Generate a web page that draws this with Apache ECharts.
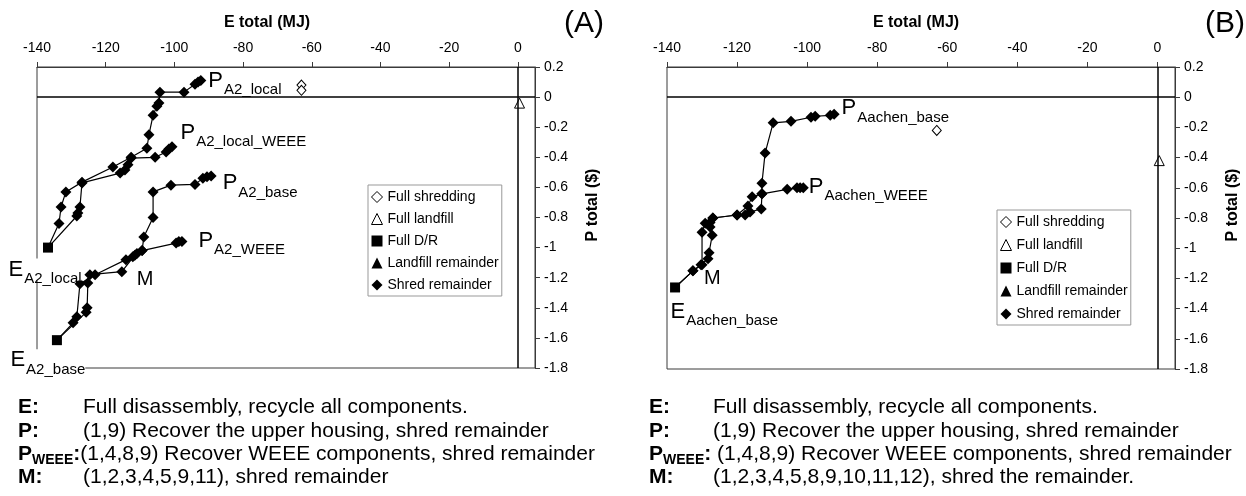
<!DOCTYPE html>
<html><head><meta charset="utf-8">
<script src="https://cdn.jsdelivr.net/npm/echarts@6/dist/echarts.min.js"></script>
<style>html,body{margin:0;padding:0;background:#fff}#c{width:1246px;height:496px}</style>
</head><body><div id="c"></div>
<script>
// ---------- tick labels / categories ----------
const xTicks = [-140, -120, -100, -80, -60, -40, -20, 0];
const yTicks = [0.2, 0, -0.2, -0.4, -0.6, -0.8, -1, -1.2, -1.4, -1.6, -1.8];
const legendNames = ['Full shredding', 'Full landfill', 'Full D/R', 'Landfill remainder', 'Shred remainder'];

// ---------- Panel A data: [E total (MJ), P total ($)] ----------
const A_P_local = [[-92.3,0.11],[-93.1,0.10],[-94.0,0.086],[-97.2,0.033],[-104.2,0.033],[-104.5,-0.04],[-105.1,-0.06],[-106.2,-0.12],[-107.4,-0.25],[-108.0,-0.34],[-112.6,-0.40],[-117.9,-0.465],[-126.9,-0.565],[-131.6,-0.63],[-133.0,-0.73],[-133.6,-0.84],[-136.8,-1.0]];
const A_P_local_WEEE = [[-100.7,-0.33],[-101.6,-0.345],[-102.4,-0.365],[-105.6,-0.40],[-112.6,-0.405],[-113.5,-0.45],[-114.4,-0.485],[-115.8,-0.505],[-126.9,-0.57],[-127.5,-0.73],[-128.1,-0.77],[-128.4,-0.79],[-136.8,-1.0]];
const A_P_base = [[-89.3,-0.525],[-90.5,-0.53],[-91.7,-0.54],[-94.0,-0.58],[-101.0,-0.585],[-106.2,-0.63],[-106.2,-0.80],[-108.9,-0.93],[-109.4,-1.02],[-110.9,-1.04],[-112.1,-1.06],[-114.1,-1.08],[-123.1,-1.18],[-127.5,-1.24],[-128.4,-1.46],[-129.5,-1.50],[-134.2,-1.615]];
const A_P_WEEE = [[-97.8,-0.96],[-98.7,-0.96],[-99.5,-0.97],[-109.4,-1.02],[-111.5,-1.05],[-115.3,-1.16],[-124.6,-1.18],[-125.2,-1.235],[-125.4,-1.40],[-125.7,-1.43],[-134.2,-1.615]];
const A_fullDR = [[-136.8,-1.0],[-134.2,-1.615]];
const A_fullShred = [[-63,0.08],[-63,0.045]];
const A_fullLandfill = [[0.5,-0.04]];
const A_landfillRem = [];

// ---------- Panel B data ----------
const B_P_base = [[-92.3,-0.113],[-93.4,-0.12],[-97.7,-0.126],[-98.9,-0.133],[-104.6,-0.16],[-109.7,-0.17],[-112.0,-0.37],[-112.9,-0.57],[-112.9,-0.64],[-115.7,-0.66],[-116.9,-0.72],[-120.0,-0.78],[-126.9,-0.80],[-127.7,-0.83],[-129.1,-0.835],[-130.0,-0.895],[-130.0,-1.11],[-132.6,-1.15],[-137.7,-1.26]];
const B_P_WEEE = [[-101.1,-0.60],[-102.0,-0.60],[-102.9,-0.60],[-105.7,-0.61],[-112.9,-0.64],[-113.1,-0.74],[-116.3,-0.76],[-117.7,-0.78],[-120.0,-0.78],[-126.9,-0.80],[-127.7,-0.86],[-127.1,-0.915],[-128.0,-1.03],[-128.3,-1.07],[-130.3,-1.11],[-132.6,-1.15],[-137.7,-1.26]];
const B_fullDR = [[-137.7,-1.26]];
const B_fullShred = [[-63,-0.22]];
const B_fullLandfill = [[0.5,-0.42]];
const B_landfillRem = [];

// ---------- footnotes ----------
const notesA = [['E:', 'Full disassembly, recycle all components.'], ['P:', '(1,9) Recover the upper housing, shred remainder'], ['PWEEE', '(1,4,8,9) Recover WEEE components, shred remainder'], ['M:', '(1,2,3,4,5,9,11), shred remainder']];
const notesB = [['E:', 'Full disassembly, recycle all components.'], ['P:', '(1,9) Recover the upper housing, shred remainder'], ['PWEEE', ' (1,4,8,9) Recover WEEE components, shred remainder'], ['M:', '(1,2,3,4,5,8,9,10,11,12), shred the remainder.']];

// ---------- styling / layout (not data) ----------
const FONT = '"Liberation Sans", Arial, Helvetica, sans-serif';
const rich = {
  m: {fontSize: 22, lineHeight: 22, verticalAlign: 'top', color: '#000', fontFamily: FONT},
  s: {fontSize: 15, lineHeight: 15, padding: [13, 0, 0, 1], verticalAlign: 'top', color: '#000', fontFamily: FONT},
  M: {fontSize: 20, lineHeight: 20, verticalAlign: 'top', color: '#000', fontFamily: FONT}
};
function lab(text, off, bg) {
  return {show: true, position: 'inside', align: 'left', verticalAlign: 'top', offset: off,
    color: '#000', textBorderWidth: 0, opacity: 1,
    formatter: text, rich: rich, backgroundColor: bg ? '#fff' : 'transparent', padding: 0};
}
const annA = {
  P_local: {0: lab('{m|P}{s|A2_local}', [7.5, -11])},
  P_local_WEEE: {0: lab('{m|P}{s|A2_local_WEEE}', [8.5, -25])},
  P_base: {0: lab('{m|P}{s|A2_base}', [11.5, -4])},
  P_WEEE: {0: lab('{m|P}{s|A2_WEEE}', [16.5, -12]), 5: lab('{M|M}', [15, -2])},
  DR: {0: lab('{m|E}{s|A2_local}', [-39.5, 11], true), 1: lab('{m|E}{s|A2_base}', [-46.5, 9], true)}
};
const annB = {
  P_base: {0: lab('{m|P}{s|Aachen_base}', [7.5, -17])},
  P_WEEE: {0: lab('{m|P}{s|Aachen_WEEE}', [5.5, -12]), 15: lab('{M|M}', [11, -2])},
  DR: {0: lab('{m|E}{s|Aachen_base}', [-4.5, 13], true)}
};

function curve(data, g, ann) {
  return {
    type: 'line', name: 'Shred remainder', xAxisIndex: g, yAxisIndex: g,
    symbol: 'diamond', symbolSize: 11, smooth: false,
    lineStyle: {color: '#000', width: 1.2}, itemStyle: {color: '#000', opacity: 1},
    emphasis: {disabled: true}, z: 3,
    data: data.map((p, i) => {
      const o = {value: p};
      if (i === data.length - 1) o.symbol = 'none';
      if (ann && ann[i]) o.label = ann[i];
      return o;
    })
  };
}
const hollow = {color: '#fff', borderColor: '#000', borderWidth: 1, opacity: 1};
function markers(g, dr, shred, landfill, rem, ann) {
  return [
    {type: 'scatter', name: 'Full D/R', xAxisIndex: g, yAxisIndex: g, symbol: 'rect', symbolSize: 10, z: 4,
      itemStyle: {color: '#000', opacity: 1}, emphasis: {disabled: true},
      data: dr.map((p, i) => (ann && ann[i]) ? {value: p, label: ann[i]} : {value: p})},
    {type: 'scatter', name: 'Full shredding', xAxisIndex: g, yAxisIndex: g, symbol: 'diamond', symbolSize: [9, 10],
      itemStyle: hollow, emphasis: {disabled: true}, data: shred},
    {type: 'scatter', name: 'Full landfill', xAxisIndex: g, yAxisIndex: g, symbol: 'triangle', symbolSize: [10, 10],
      itemStyle: hollow, emphasis: {disabled: true}, data: landfill,
      markLine: {silent: true, symbol: ['none', 'none'], label: {show: false},
        lineStyle: {color: '#000', width: 1.5, type: 'solid', opacity: 1}, emphasis: {disabled: true},
        data: [{yAxis: 0}, {xAxis: 0}]}},
    {type: 'scatter', name: 'Landfill remainder', xAxisIndex: g, yAxisIndex: g, symbol: 'triangle', symbolSize: 10,
      itemStyle: {color: '#000', opacity: 1}, data: rem}
  ];
}

const axisCol = '#3a3a3a';
function xAxis(g) {
  return {gridIndex: g, type: 'value', position: 'top', min: -140, max: 5, interval: 20,
    axisLine: {show: true, onZero: false, lineStyle: {color: axisCol, width: 1}},
    axisTick: {show: true, length: 5, customValues: xTicks, lineStyle: {color: axisCol}},
    axisLabel: {customValues: xTicks, margin: 12, fontSize: 14, color: '#000', fontFamily: FONT,
      formatter: v => xTicks.includes(v) ? String(v) : ''},
    splitLine: {show: false}};
}
function yAxis(g) {
  return {gridIndex: g, type: 'value', position: 'right', min: -1.8, max: 0.2, interval: 0.2,
    axisLine: {show: true, onZero: false, lineStyle: {color: axisCol, width: 1}},
    axisTick: {show: true, length: 5, customValues: yTicks, lineStyle: {color: axisCol}},
    axisLabel: {customValues: yTicks, margin: 9, fontSize: 14, color: '#000', fontFamily: FONT,
      formatter: v => String(+(+v).toFixed(1))},
    splitLine: {show: false}};
}

const legendData = [
  {name: legendNames[0], icon: 'diamond', itemStyle: hollow},
  {name: legendNames[1], icon: 'triangle', itemStyle: hollow},
  {name: legendNames[2], icon: 'rect', itemStyle: {color: '#000', opacity: 1}},
  {name: legendNames[3], icon: 'triangle', itemStyle: {color: '#000', opacity: 1}},
  {name: legendNames[4], icon: 'diamond', itemStyle: {color: '#000', opacity: 1}}
];
function legend(left, top, gap) {
  return {orient: 'vertical', left: left, top: top, padding: [4, 3, 3, 3], itemGap: gap,
    itemWidth: 11, itemHeight: 11, borderColor: '#999', borderWidth: 1, borderRadius: 0,
    backgroundColor: '#fff', selectedMode: false,
    textStyle: {fontSize: 14, lineHeight: 16, color: '#000', fontFamily: FONT},
    data: legendData};
}

const graphics = [];
function txt(x, y, text, font, extra) {
  graphics.push(Object.assign({type: 'text', x: x, y: y, silent: true,
    style: {text: text, font: font, fill: '#000', align: 'center', verticalAlign: 'middle'}}, extra || {}));
}
txt(267, 23, 'E total (MJ)', 'bold 16px ' + FONT);
txt(916, 23, 'E total (MJ)', 'bold 16px ' + FONT);
txt(584, 24, '(A)', '30px ' + FONT);
txt(1225, 24, '(B)', '30px ' + FONT);
txt(593, 205, 'P total ($)', 'bold 16px ' + FONT, {rotation: Math.PI / 2});
txt(1233, 205, 'P total ($)', 'bold 16px ' + FONT, {rotation: Math.PI / 2});

const NOTE = 21;
const noteY = [407, 431, 454, 477];
function notes(list, xKey, xDesc) {
  list.forEach((n, i) => {
    if (n[0] === 'PWEEE') {
      graphics.push({type: 'text', x: xKey, y: noteY[i], silent: true, style: {
        text: '{b|P}{bs|WEEE}{b|:}' + '{d|' + n[1] + '}', align: 'left', verticalAlign: 'middle',
        rich: {
          b: {font: 'bold ' + NOTE + 'px ' + FONT, lineHeight: NOTE, verticalAlign: 'top', fill: '#000'},
          bs: {font: 'bold 14px ' + FONT, lineHeight: 14, padding: [10, 0, 0, 0], verticalAlign: 'top', fill: '#000'},
          d: {font: NOTE + 'px ' + FONT, lineHeight: NOTE, verticalAlign: 'top', fill: '#000'}
        }}});
    } else {
      graphics.push({type: 'text', x: xKey, y: noteY[i], silent: true,
        style: {text: n[0], font: 'bold ' + NOTE + 'px ' + FONT, fill: '#000', align: 'left', verticalAlign: 'middle'}});
      graphics.push({type: 'text', x: xDesc, y: noteY[i], silent: true,
        style: {text: n[1], font: NOTE + 'px ' + FONT, fill: '#000', align: 'left', verticalAlign: 'middle'}});
    }
  });
}
notes(notesA, 18, 83);
notes(notesB, 649, 713);

const option = {
  animation: false,
  backgroundColor: '#fff',
  textStyle: {fontFamily: FONT},
  grid: [
    {left: 37, top: 67, width: 498, height: 301, show: true, borderColor: axisCol, borderWidth: 1, backgroundColor: 'transparent'},
    {left: 667, top: 67, width: 508, height: 302, show: true, borderColor: axisCol, borderWidth: 1, backgroundColor: 'transparent'}
  ],
  xAxis: [xAxis(0), xAxis(1)],
  yAxis: [yAxis(0), yAxis(1)],
  legend: [legend(368, 185, 6), legend(997, 210, 7)],
  series: [
    curve(A_P_local, 0, annA.P_local),
    curve(A_P_local_WEEE, 0, annA.P_local_WEEE),
    curve(A_P_base, 0, annA.P_base),
    curve(A_P_WEEE, 0, annA.P_WEEE),
    ...markers(0, A_fullDR, A_fullShred, A_fullLandfill, A_landfillRem, annA.DR),
    curve(B_P_base, 1, annB.P_base),
    curve(B_P_WEEE, 1, annB.P_WEEE),
    ...markers(1, B_fullDR, B_fullShred, B_fullLandfill, B_landfillRem, annB.DR)
  ],
  graphic: graphics
};
const chart = echarts.init(document.getElementById('c'), null, {renderer: 'canvas'});
chart.setOption(option);
</script>
</body></html>
